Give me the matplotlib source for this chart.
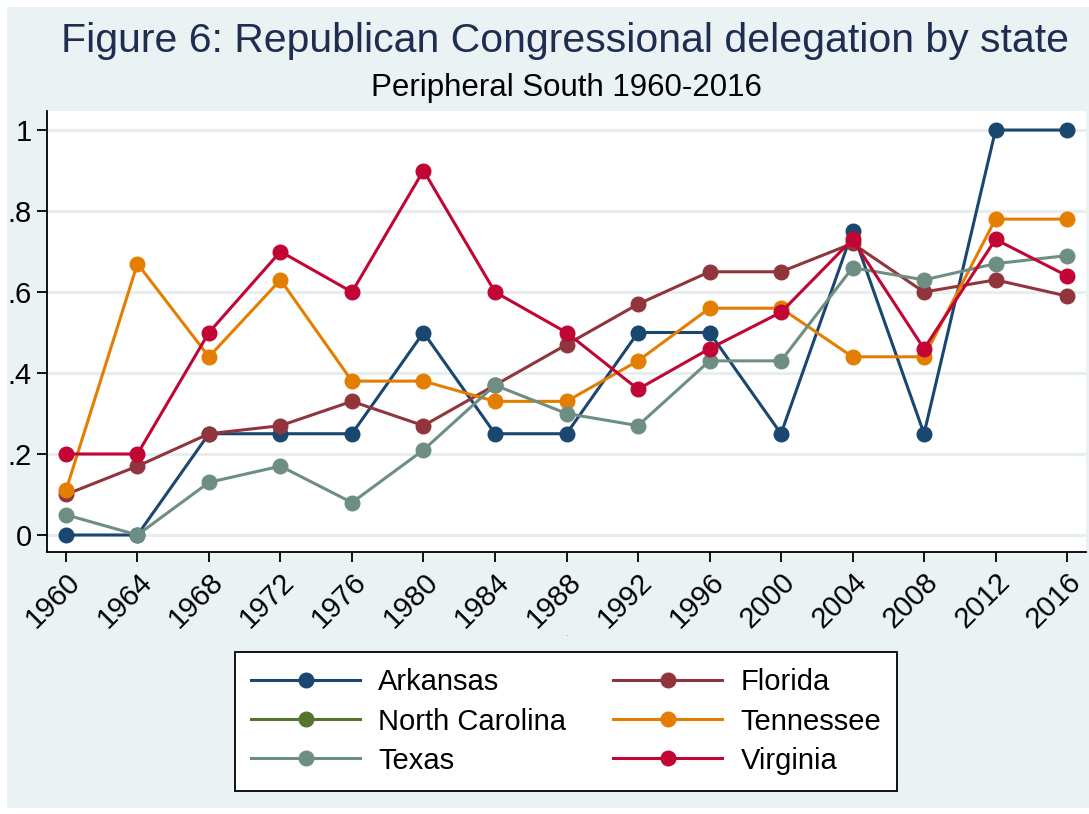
import numpy as np
import matplotlib.pyplot as plt
from matplotlib.patches import Rectangle

plt.rcParams['font.family'] = ['Liberation Sans', 'DejaVu Sans']

# data (share of Republican seats)
years = [1960, 1964, 1968, 1972, 1976, 1980, 1984, 1988, 1992, 1996, 2000, 2004, 2008, 2012, 2016]
arkansas = [0, 0, .25, .25, .25, .50, .25, .25, .50, .50, .25, .75, .25, 1.0, 1.0]
florida = [.10, .17, .25, .27, .33, .27, .37, .47, .57, .65, .65, .72, .60, .63, .59]
north_carolina = []  # in the legend, no points visible
tennessee = [.11, .67, .44, .63, .38, .38, .33, .33, .43, .56, .56, .44, .44, .78, .78]
texas = [.05, 0, .13, .17, .08, .21, .37, .30, .27, .43, .43, .66, .63, .67, .69]
virginia = [.20, .20, .50, .70, .60, .90, .60, .50, .36, .46, .55, .73, .46, .73, .64]

y_ticks = [0, .2, .4, .6, .8, 1]
y_labels = ["0", ".2", ".4", ".6", ".8", "1"]

W, H = 1089, 814
fig = plt.figure(figsize=(W / 100, H / 100), dpi=100, facecolor="white")
fig.patches.append(Rectangle((7 / W, 6 / H), 1 - 7 / W, 801 / H, transform=fig.transFigure,
                             facecolor="#eaf2f3", edgecolor="none", zorder=-10))

ax = fig.add_axes([47 / W, 1 - 552 / H, (1086 - 47) / W, (552 - 111) / H])
ax.set_facecolor("white")

series = [
    ("Arkansas", years, arkansas, "#1a476f"),
    ("Florida", years, florida, "#90353b"),
    ("North Carolina", [], north_carolina, "#55752f"),
    ("Tennessee", years, tennessee, "#e37e00"),
    ("Texas", years, texas, "#6e8e84"),
    ("Virginia", years, virginia, "#c10534"),
]
handles = {}
for name, xs, ys, col in series:
    h, = ax.plot(xs, ys, color=col, lw=2.2, marker="o", ms=10.5, label=name)
    handles[name] = h

ax.set_xlim(1958.94, 2017.06)
ax.set_ylim(-0.042, 1.047)
ax.set_xticks(years)
ax.set_xticklabels([str(y) for y in years], rotation=45, ha="right", va="top",
                   rotation_mode="anchor", fontsize=21)
ax.set_yticks(y_ticks)
ax.set_yticklabels(y_labels, fontsize=21)
ax.tick_params(length=7, width=1.3, color="black", pad=4)
ax.grid(axis="y", color="#e6eef0", lw=2.2)
ax.set_axisbelow(True)
for s in ["top", "right"]:
    ax.spines[s].set_visible(False)
for s in ["left", "bottom"]:
    ax.spines[s].set_linewidth(1.3)

fig.text(565 / W, 1 - 41 / H, "Figure 6: Republican Congressional delegation by state",
         ha="center", va="center", fontsize=29.5, color="#1f2d50")
fig.text(566 / W, 1 - 88 / H, "Peripheral South 1960-2016", ha="center", va="center",
         fontsize=22.5, color="black")
fig.text(566 / W, 1 - 634 / H, ".", ha="center", va="center", fontsize=6, color="#777777")

order = ["Arkansas", "North Carolina", "Texas", "Florida", "Tennessee", "Virginia"]
leg = fig.legend([handles[n] for n in order], order, ncol=2, loc="center",
                 bbox_to_anchor=(566 / W, 1 - 721.5 / H), fontsize=21,
                 handlelength=3.75, handletextpad=0.62, columnspacing=1.6,
                 labelspacing=0.38, borderpad=0.55, frameon=True, fancybox=False)
leg.get_frame().set_edgecolor("black")
leg.get_frame().set_linewidth(1.3)
leg.get_frame().set_facecolor("white")
leg.get_frame().set_alpha(1)

fig.savefig("out.png", dpi=100, facecolor=fig.get_facecolor())
